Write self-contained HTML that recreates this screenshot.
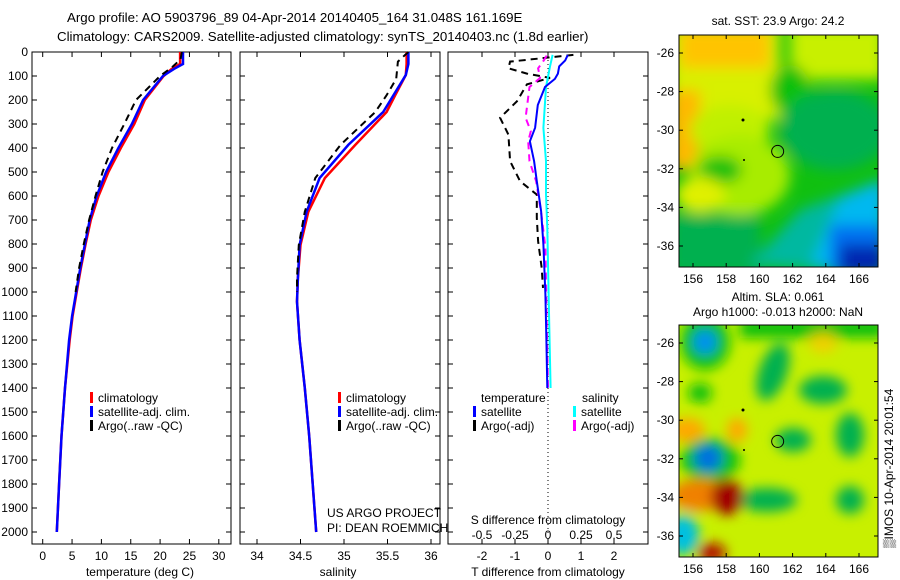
<!DOCTYPE html>
<html><head><meta charset="utf-8"><style>
body{margin:0;background:#fff}
svg{display:block;font-family:"Liberation Sans",sans-serif}
</style></head><body>
<svg id="fig" width="900" height="580" viewBox="0 0 900 580">
<defs>
<filter id="blur1" x="-20%" y="-20%" width="140%" height="140%"><feGaussianBlur stdDeviation="7"/></filter>
<filter id="blur2" x="-20%" y="-20%" width="140%" height="140%"><feGaussianBlur stdDeviation="6"/></filter>
<clipPath id="clipM1"><rect x="679" y="35" width="199" height="232"/></clipPath>
<clipPath id="clipM2"><rect x="679" y="325" width="199" height="232"/></clipPath>
</defs>
<text x="67" y="22" font-size="13.3">Argo profile: AO 5903796_89 04-Apr-2014 20140405_164 31.048S 161.169E</text>
<text x="57" y="41" font-size="13.3">Climatology: CARS2009. Satellite-adjusted climatology: synTS_20140403.nc (1.8d earlier)</text>

<!-- Map 1 SST -->
<g clip-path="url(#clipM1)">
<rect x="679" y="35" width="199" height="232" fill="#10c010"/>
<g filter="url(#blur1)">
<rect x="670" y="25" width="110" height="95" fill="#d8f000"/>
<rect x="680" y="28" width="90" height="40" fill="#ffc400"/>
<rect x="790" y="25" width="95" height="55" fill="#c8f000"/>
<rect x="670" y="90" width="30" height="80" fill="#ffb800"/>
<ellipse cx="730" cy="130" rx="40" ry="25" fill="#c0f000"/>
<ellipse cx="740" cy="175" rx="50" ry="40" fill="#a8ec00"/>
<ellipse cx="720" cy="170" rx="22" ry="14" fill="#10c010"/>
<ellipse cx="700" cy="195" rx="25" ry="18" fill="#e0f000"/>
<ellipse cx="790" cy="90" rx="20" ry="25" fill="#10c010"/>
<ellipse cx="835" cy="130" rx="55" ry="40" fill="#00b050"/>
<rect x="670" y="215" width="90" height="60" fill="#00b050"/>
<polygon points="750,265 800,210 880,180 880,275" fill="#00b8a0"/>
<polygon points="810,265 840,200 885,180 885,275" fill="#00b8f0"/>
<rect x="830" y="225" width="55" height="50" fill="#0070f0"/>
<rect x="840" y="245" width="45" height="30" fill="#0028b0"/>
</g>
</g>
<rect x="679" y="35" width="199" height="232" fill="none" stroke="#000"/>
<text x="778" y="25" font-size="12" text-anchor="middle">sat. SST: 23.9 Argo: 24.2</text>

<!-- Map 2 SLA -->
<g clip-path="url(#clipM2)">
<rect x="679" y="325" width="199" height="232" fill="#c8f000"/>
<g filter="url(#blur2)">
<rect x="740" y="318" width="145" height="20" fill="#10c010"/>
<ellipse cx="705" cy="342" rx="25" ry="28" fill="#10c010"/>
<ellipse cx="705" cy="342" rx="12" ry="12" fill="#0090f0"/>
<ellipse cx="773" cy="372" rx="14" ry="30" fill="#00b050" transform="rotate(20 773 372)"/>
<ellipse cx="823" cy="390" rx="24" ry="14" fill="#00b050"/>
<ellipse cx="700" cy="393" rx="12" ry="10" fill="#10c010"/>
<ellipse cx="793" cy="440" rx="18" ry="12" fill="#00b050"/>
<ellipse cx="850" cy="435" rx="14" ry="22" fill="#00b050"/>
<ellipse cx="767" cy="500" rx="30" ry="12" fill="#00b050"/>
<ellipse cx="850" cy="500" rx="14" ry="14" fill="#00b050"/>
<ellipse cx="823" cy="343" rx="14" ry="10" fill="#f0d000"/>
<ellipse cx="687" cy="430" rx="18" ry="12" fill="#ffa800"/>
<ellipse cx="737" cy="430" rx="10" ry="12" fill="#ffa800"/>
<ellipse cx="710" cy="460" rx="30" ry="22" fill="#10c010"/>
<ellipse cx="708" cy="458" rx="14" ry="14" fill="#0070e0"/>
<ellipse cx="700" cy="495" rx="30" ry="16" fill="#f08000"/>
<ellipse cx="727" cy="497" rx="16" ry="18" fill="#a00000"/>
<ellipse cx="712" cy="553" rx="14" ry="10" fill="#b01000"/>
<ellipse cx="683" cy="535" rx="16" ry="20" fill="#00c0e0"/>
</g>
</g>
<rect x="679" y="325" width="199" height="232" fill="none" stroke="#000"/>
<text x="778" y="301" font-size="12" text-anchor="middle">Altim. SLA: 0.061</text>
<text x="778" y="316" font-size="12" text-anchor="middle">Argo h1000: -0.013 h2000: NaN</text>
<text transform="translate(893 548) rotate(-90)" font-size="12">▒IMOS 10-Apr-2014 20:01:54</text>

<g id="panels"></g>
</svg>
<script>
// ---------- data ----------
const depthT = [0,50,70,100,200,300,400,500,600,700,800,900,1000,1100,1200,1400,1600,1800,2000];
const tClim = [23.4,23.4,22.0,20.6,17.4,15.6,13.3,11.2,9.5,8.2,7.3,6.5,5.8,5.1,4.6,3.8,3.2,2.8,2.4];
const tSat = [23.9,23.9,22.4,20.5,17.1,15.2,12.9,10.8,9.2,8.0,7.2,6.4,5.7,5.0,4.5,3.8,3.2,2.8,2.4];
const depthTArgo = [0,30,60,100,200,300,400,500,600,700,800,900,1000];
const tArgo = [23.7,23.5,22.2,20.0,15.9,13.9,11.8,10.2,9.0,7.9,7.0,6.2,5.6];

const depthS = [0,50,96,179,250,387,525,666,804,942,1040,1200,1400,1600,1800,2000];
const sClim = [35.72,35.72,35.71,35.59,35.49,35.13,34.78,34.59,34.50,34.47,34.46,34.49,34.55,34.60,34.64,34.68];
const sSat = [35.74,35.74,35.71,35.57,35.45,35.05,34.72,34.57,34.49,34.47,34.46,34.49,34.55,34.60,34.64,34.68];
const depthSArgo = [0,13,40,112,180,250,387,525,666,804,942,1000];
const sArgo = [35.74,35.70,35.62,35.60,35.49,35.36,34.96,34.67,34.55,34.48,34.46,34.46];

const depthTSatDiff = [12,35,60,90,112,146,221,316,372,455,538,663,802,1010,1200,1400];
const tSatDiff = [0.6,0.52,0.34,0.3,0.21,-0.09,-0.31,-0.39,-0.55,-0.42,-0.34,-0.21,-0.14,-0.08,-0.05,-0.02];
const depthTArgoDiff = [12,40,68,90,108,135,205,274,344,455,538,594,690,788,900,983];
const tArgoDiff = [0.77,-1.15,-1.2,-0.64,0.06,-0.64,-0.94,-1.45,-1.2,-1.15,-0.85,-0.34,-0.34,-0.3,-0.19,-0.15];
const depthSArgoDiff = [15,42,68,108,146,274,330,372,455,538,677,816,1122,1400];
const sArgoDiff = [-0.01,-0.04,-0.075,-0.06,-0.14,-0.17,-0.13,-0.15,-0.14,-0.09,-0.05,-0.02,-0.01,0];
const depthSSatDiff = [12,60,146,316,455,594,732,1148,1400];
const sSatDiff = [0.035,0.015,-0.015,-0.035,-0.015,-0.015,-0.005,0.01,0.02];

const depthTicks = [0,100,200,300,400,500,600,700,800,900,1000,1100,1200,1300,1400,1500,1600,1700,1800,1900,2000];
const tTicks = [0,5,10,15,20,25,30];
const sTicks = [34,34.5,35,35.5,36];
const sTickLabels = ["34","34.5","35","35.5","36"];
const tdTicks = [-2,-1,0,1,2];
const sdTickLabels = ["-0.5","-0.25","0","0.25","0.5"];
const lonTicks = [156,158,160,162,164,166];
const latTicks = [-26,-28,-30,-32,-34,-36];
const argoLon = 161.1, argoLat = -31.1;

// ---------- drawing ----------
const NS = 'http://www.w3.org/2000/svg';
const root = document.getElementById('panels');
function mk(tag, attrs, parent){ const e=document.createElementNS(NS,tag); for(const k in attrs) e.setAttribute(k,attrs[k]); (parent||root).appendChild(e); return e; }
const yTop=52, yBot=544;
const yD = d => 52 + d*0.24;
const xT = v => 42.7 + v*5.87;
const xS = v => 257 + (v-34)*87;
const xTd = v => 548 + v*33;
const xSd = v => 548 + v*132;

function frame(x0,x1,name){
  const r = mk('rect',{x:x0,y:yTop,width:x1-x0,height:yBot-yTop,fill:'none',stroke:'#000'});
  
  
  depthTicks.forEach(d=>{
    mk('line',{x1:x0,x2:x0+5,y1:yD(d),y2:yD(d),stroke:'#000'});
    mk('line',{x1:x1-5,x2:x1,y1:yD(d),y2:yD(d),stroke:'#000'});
  });
}
function xticks(vals, fx){
  vals.forEach(v=>{ const x=fx(v);
    mk('line',{x1:x,x2:x,y1:yBot,y2:yBot-5,stroke:'#000'});
    mk('line',{x1:x,x2:x,y1:yTop,y2:yTop+5,stroke:'#000'});
  });
}
function label(x,y,txt,name,anchor,size){
  const t = mk('text',{x:x,y:y,'font-size':size||12,'text-anchor':anchor||'middle'});
  t.textContent = txt;
  
  
  return t;
}
function line(xs, ds, fx, color, w, dash, name){
  const pts = xs.map((v,i)=>fx(v).toFixed(1)+','+yD(ds[i]).toFixed(1)).join(' ');
  const p = mk('polyline',{points:pts,fill:'none',stroke:color,'stroke-width':w});
  if(dash) p.setAttribute('stroke-dasharray',dash);
  
  
}
function legend(x,y,color,txt,name){
  mk('rect',{x:x,y:y-10,width:3,height:11,fill:color});
  label(x+8,y,txt,name,'start');
}

// Panel 1
frame(32,231,'temperature-panel-frame');
xticks(tTicks,xT);
depthTicks.forEach(d=>label(28,yD(d)+4,String(d),'depth-tick-label','end'));
tTicks.forEach(v=>label(xT(v),560,String(v),'temperature-tick-label'));
label(140,576,'temperature (deg C)','temperature-axis-title');
line(tClim,depthT,xT,'#ff0000',2.5,null,'temperature-climatology-line');
line(tSat,depthT,xT,'#0000ff',2.5,null,'temperature-satellite-line');
line(tArgo,depthTArgo,xT,'#000',2,'7,5','temperature-argo-line');
legend(90,402,'#ff0000','climatology','legend-climatology');
legend(90,416,'#0000ff','satellite-adj. clim.','legend-satellite');
legend(90,430,'#000','Argo(..raw -QC)','legend-argo');

// Panel 2
frame(240,440,'salinity-panel-frame');
xticks(sTicks,xS);
sTicks.forEach((v,i)=>label(xS(v),560,sTickLabels[i],'salinity-tick-label'));
label(338,576,'salinity','salinity-axis-title');
line(sClim,depthS,xS,'#ff0000',2.5,null,'salinity-climatology-line');
line(sSat,depthS,xS,'#0000ff',2.5,null,'salinity-satellite-line');
line(sArgo,depthSArgo,xS,'#000',2,'7,5','salinity-argo-line');
legend(338,402,'#ff0000','climatology','legend-climatology');
legend(338,416,'#0000ff','satellite-adj. clim.','legend-satellite');
legend(338,430,'#000','Argo(..raw -QC)','legend-argo');
label(327,517,'US ARGO PROJECT','project-credit','start');
label(327,532,'PI: DEAN ROEMMICH','pi-credit','start');

// Panel 3
frame(448,648,'difference-panel-frame');
xticks(tdTicks,xTd);
const z = mk('line',{x1:548,x2:548,y1:yTop,y2:533,stroke:'#000','stroke-dasharray':'1,3'});


tdTicks.forEach(v=>label(xTd(v),560,String(v),'t-diff-tick-label'));
tdTicks.forEach((v,i)=>label(xTd(v),539,sdTickLabels[i],'s-diff-tick-label'));
label(548,524,'S difference from climatology','s-diff-axis-title');
label(548,576,'T difference from climatology','t-diff-axis-title');
line(tArgoDiff,depthTArgoDiff,xTd,'#000',2,'7,5','t-argo-diff-line');
line(sArgoDiff,depthSArgoDiff,xSd,'#ff00ff',2,'7,5','s-argo-diff-line');
line(sSatDiff,depthSSatDiff,xSd,'#00ffff',2,null,'s-satellite-diff-line');
line(tSatDiff,depthTSatDiff,xTd,'#0000ff',2,null,'t-satellite-diff-line');
label(481,402,'temperature','legend-temperature-header','start');
label(582,402,'salinity','legend-salinity-header','start');
legend(473,416,'#0000ff','satellite','legend-t-satellite');
legend(473,430,'#000','Argo(-adj)','legend-t-argo');
legend(573,416,'#00ffff','satellite','legend-s-satellite');
legend(573,430,'#ff00ff','Argo(-adj)','legend-s-argo');

// Map axes
const xLon = v => 693 + (v-156)*16.6;
const yLat = (v,off) => off + 53 + (-26-v)*19.3;
[0,290].forEach((off,k)=>{
  const y0 = 35+off, y1 = 267+off;
  lonTicks.forEach(v=>{ const x=xLon(v);
    mk('line',{x1:x,x2:x,y1:y1,y2:y1-4,stroke:'#000'});
    mk('line',{x1:x,x2:x,y1:y0,y2:y0+4,stroke:'#000'});
    label(x,y1+16,String(v),'longitude-tick-label');
  });
  latTicks.forEach(v=>{ const y=yLat(v,off);
    mk('line',{x1:679,x2:683,y1:y,y2:y,stroke:'#000'});
    mk('line',{x1:874,x2:878,y1:y,y2:y,stroke:'#000'});
    label(674,y+4,String(v),'latitude-tick-label','end');
  });
  const c = mk('circle',{cx:xLon(argoLon),cy:yLat(argoLat,off),r:6,fill:'none',stroke:'#000'});
  
  
  mk('circle',{cx:743,cy:120+off,r:1.5,fill:'#000'});
  mk('circle',{cx:744,cy:160+off,r:1,fill:'#000'});
});
</script>
</body></html>
